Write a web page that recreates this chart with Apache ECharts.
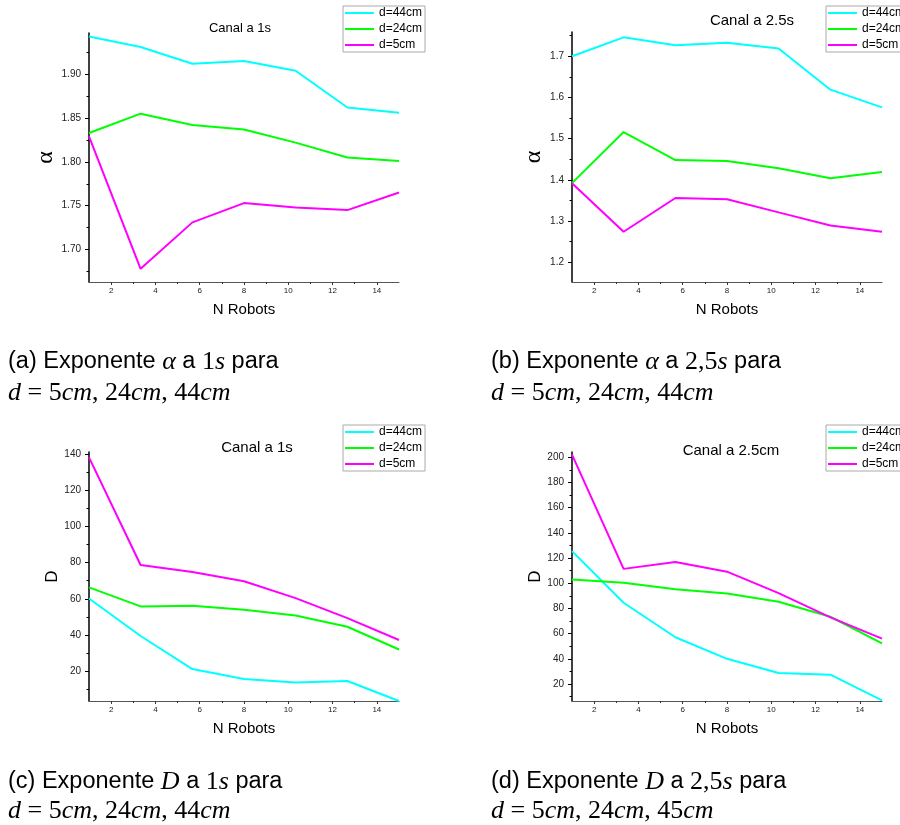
<!DOCTYPE html>
<html>
<head>
<meta charset="utf-8">
<script src="https://cdn.jsdelivr.net/npm/echarts@6/dist/echarts.min.js"></script>
<style>
  html, body { margin: 0; padding: 0; background: #fff; }
  #chart { width: 900px; height: 825px; }
</style>
</head>
<body>
<div id="chart"></div>
<script>
// Number of robots (x values shared by every curve)
const nRobots = [1, 3.33, 5.67, 8, 10.33, 12.67, 15];

// Exponent alpha, channel at 1 s
const alpha1s_d44 = [1.943, 1.931, 1.912, 1.915, 1.904, 1.862, 1.856];
const alpha1s_d24 = [1.833, 1.855, 1.842, 1.837, 1.822, 1.805, 1.801];
const alpha1s_d5  = [1.829, 1.678, 1.731, 1.753, 1.748, 1.745, 1.765];

// Exponent alpha, channel at 2.5 s
const alpha25s_d44 = [1.700, 1.746, 1.727, 1.733, 1.719, 1.619, 1.576];
const alpha25s_d24 = [1.392, 1.516, 1.448, 1.446, 1.428, 1.404, 1.419];
const alpha25s_d5  = [1.392, 1.274, 1.356, 1.353, 1.321, 1.289, 1.274];

// Exponent D, channel at 1 s
const D1s_d44 = [60.2, 39.4, 21.1, 15.6, 13.6, 14.5, 3.4];
const D1s_d24 = [66.3, 55.8, 56.1, 53.9, 50.8, 44.5, 31.9];
const D1s_d5  = [138.3, 78.7, 74.8, 69.7, 60.4, 49.3, 37.2];

// Exponent D, channel at 2.5
const D25_d44 = [125.5, 84.5, 57.1, 40.0, 28.7, 27.4, 7.0];
const D25_d24 = [102.9, 100.3, 95.2, 91.8, 85.3, 73.4, 52.3];
const D25_d5  = [202.1, 111.4, 116.9, 109.2, 92.1, 72.9, 56.0];

// Series names and tick values
const seriesNames = ['d=44cm', 'd=24cm', 'd=5cm'];
const xMajorTicks = [2, 4, 6, 8, 10, 12, 14];
const xMinorTicks = [3, 5, 7, 9, 11, 13];
const alpha1sMajor = [1.70, 1.75, 1.80, 1.85, 1.90];
const alpha1sMinor = [1.675, 1.725, 1.775, 1.825, 1.875, 1.925];
const alpha25sMajor = [1.2, 1.3, 1.4, 1.5, 1.6, 1.7];
const alpha25sMinor = [1.25, 1.35, 1.45, 1.55, 1.65, 1.75];
const D1sMajor = [20, 40, 60, 80, 100, 120, 140];
const D1sMinor = [10, 30, 50, 70, 90, 110, 130];
const D25Major = [20, 40, 60, 80, 100, 120, 140, 160, 180, 200];
const D25Minor = [10, 30, 50, 70, 90, 110, 130, 150, 170, 190];

const titles = ['Canal a 1s', 'Canal a 2.5s', 'Canal a 1s', 'Canal a 2.5cm'];

const seriesColors = ['#00FFFF', '#00FF00', '#FF00FF'];
const SANS = 'Liberation Sans, Arial, sans-serif';
const SERIF = 'Liberation Serif, Times New Roman, serif';

const panels = [
  { values: [alpha1s_d44, alpha1s_d24, alpha1s_d5], yMin: 1.663, yMax: 1.947,
    major: alpha1sMajor, minor: alpha1sMinor, decimals: 2, yName: 'α', serifName: true,
    grid: { left: 89, top: 33, width: 310, height: 249 },
    titleX: 240, titleY: 28, titleSize: 13, legendLeft: 343, legendTop: 6,
    yNameGap: 25, xNameGap: 20 },
  { values: [alpha25s_d44, alpha25s_d24, alpha25s_d5], yMin: 1.152, yMax: 1.759,
    major: alpha25sMajor, minor: alpha25sMinor, decimals: 1, yName: 'α', serifName: true,
    grid: { left: 572, top: 32, width: 310, height: 250 },
    titleX: 752, titleY: 21, titleSize: 15, legendLeft: 826, legendTop: 6,
    yNameGap: 25, xNameGap: 20 },
  { values: [D1s_d44, D1s_d24, D1s_d5], yMin: 3.4, yMax: 141.3,
    major: D1sMajor, minor: D1sMinor, decimals: 0, yName: 'D', serifName: false,
    grid: { left: 89, top: 452, width: 310, height: 249 },
    titleX: 257, titleY: 448, titleSize: 15, legendLeft: 343, legendTop: 425,
    yNameGap: 28, xNameGap: 20 },
  { values: [D25_d44, D25_d24, D25_d5], yMin: 6.5, yMax: 204.2,
    major: D25Major, minor: D25Minor, decimals: 0, yName: 'D', serifName: false,
    grid: { left: 572, top: 452, width: 310, height: 249 },
    titleX: 731, titleY: 451, titleSize: 15, legendLeft: 826, legendTop: 425,
    yNameGap: 26, xNameGap: 20 }
];

// Sub-figure captions: sans text with math in serif
const captions = [
  { x: 8, y1: 362, y2: 393,
    l1: '{t|(a) Exponente }{mi|α}{t| a }{mr|1}{mi|s}{t| para}',
    l2: '{mi|d}{mr| = 5}{mi|cm}{mr|, 24}{mi|cm}{mr|, 44}{mi|cm}' },
  { x: 491, y1: 362, y2: 393,
    l1: '{t|(b) Exponente }{mi|α}{t| a }{mr|2,5}{mi|s}{t| para}',
    l2: '{mi|d}{mr| = 5}{mi|cm}{mr|, 24}{mi|cm}{mr|, 44}{mi|cm}' },
  { x: 8, y1: 782, y2: 811,
    l1: '{t|(c) Exponente }{mi|D}{t| a }{mr|1}{mi|s}{t| para}',
    l2: '{mi|d}{mr| = 5}{mi|cm}{mr|, 24}{mi|cm}{mr|, 44}{mi|cm}' },
  { x: 491, y1: 782, y2: 811,
    l1: '{t|(d) Exponente }{mi|D}{t| a }{mr|2,5}{mi|s}{t| para}',
    l2: '{mi|d}{mr| = 5}{mi|cm}{mr|, 24}{mi|cm}{mr|, 45}{mi|cm}' }
];
const captionRich = {
  t:  { fontFamily: SANS, fontSize: 23.5, fill: '#000' },
  mi: { fontFamily: SERIF, fontSize: 26, fontStyle: 'italic', fill: '#000' },
  mr: { fontFamily: SERIF, fontSize: 26, fill: '#000' }
};

const grids = [], xAxes = [], yAxes = [], series = [], legends = [], graphics = [];

panels.forEach((p, i) => {
  grids.push(Object.assign({ containLabel: false }, p.grid));

  // main x axis
  xAxes.push({
    type: 'value', gridIndex: i, min: 1, max: 15, position: 'bottom',
    name: 'N Robots', nameLocation: 'middle', nameGap: p.xNameGap,
    nameTextStyle: { fontFamily: SANS, fontSize: 15, color: '#000' },
    axisLine: { show: true, onZero: false, lineStyle: { color: '#555', width: 1 } },
    axisTick: { show: true, length: 3, customValues: xMajorTicks, lineStyle: { color: '#333' } },
    axisLabel: { show: true, customValues: xMajorTicks, margin: 5, fontSize: 8,
                 fontFamily: SANS, color: '#222' },
    splitLine: { show: false }
  });
  // x minor ticks
  xAxes.push({
    type: 'value', gridIndex: i, min: 1, max: 15, position: 'bottom',
    axisLine: { show: false },
    axisTick: { show: true, length: 2, customValues: xMinorTicks, lineStyle: { color: '#333' } },
    axisLabel: { show: false },
    splitLine: { show: false }
  });

  // main y axis
  yAxes.push({
    type: 'value', gridIndex: i, min: p.yMin, max: p.yMax, position: 'left',
    name: p.yName, nameLocation: 'middle', nameGap: p.yNameGap,
    nameTextStyle: p.serifName
      ? { fontFamily: SERIF, fontSize: 24, color: '#000' }
      : { fontFamily: SANS, fontSize: 17, color: '#000' },
    axisLine: { show: true, onZero: false, lineStyle: { color: '#000', width: 1.5 } },
    axisTick: { show: true, length: 4, customValues: p.major, lineStyle: { color: '#000' } },
    axisLabel: { show: true, customValues: p.major, margin: 8, fontSize: 10,
                 fontFamily: SANS, color: '#222',
                 formatter: v => Number(v).toFixed(p.decimals) },
    splitLine: { show: false }
  });
  // y minor ticks
  yAxes.push({
    type: 'value', gridIndex: i, min: p.yMin, max: p.yMax, position: 'left',
    axisLine: { show: false },
    axisTick: { show: true, length: 2.5, customValues: p.minor, lineStyle: { color: '#000' } },
    axisLabel: { show: false },
    splitLine: { show: false }
  });

  p.values.forEach((vals, k) => {
    series.push({
      type: 'line', name: seriesNames[k],
      xAxisIndex: 2 * i, yAxisIndex: 2 * i,
      data: nRobots.map((x, j) => [x, vals[j]]),
      symbol: 'none', showSymbol: false,
      lineStyle: { color: seriesColors[k], width: 2 },
      itemStyle: { color: seriesColors[k] },
      animation: false
    });
  });

  legends.push({
    data: seriesNames, orient: 'vertical',
    left: p.legendLeft, top: p.legendTop,
    itemWidth: 29, itemHeight: 12, itemGap: 4,
    padding: [1, 3, 1, 1],
    borderColor: '#aaa', borderWidth: 1, backgroundColor: '#fff',
    itemStyle: { opacity: 0 },
    lineStyle: { width: 2, opacity: 1 },
    textStyle: { fontFamily: SANS, fontSize: 12, color: '#000' },
    selectedMode: false
  });

  graphics.push({
    type: 'text', x: p.titleX, y: p.titleY,
    style: { text: titles[i], fontFamily: SANS, fontSize: p.titleSize, fill: '#000',
             align: 'center', verticalAlign: 'middle' }
  });
});

captions.forEach(c => {
  graphics.push({ type: 'text', x: c.x, y: c.y1,
    style: { text: c.l1, rich: captionRich, verticalAlign: 'middle', align: 'left' } });
  graphics.push({ type: 'text', x: c.x, y: c.y2,
    style: { text: c.l2, rich: captionRich, verticalAlign: 'middle', align: 'left' } });
});

const chart = echarts.init(document.getElementById('chart'), null, { renderer: 'canvas' });
chart.setOption({
  animation: false,
  backgroundColor: '#fff',
  grid: grids,
  xAxis: xAxes,
  yAxis: yAxes,
  legend: legends,
  series: series,
  graphic: graphics
});
</script>
</body>
</html>
